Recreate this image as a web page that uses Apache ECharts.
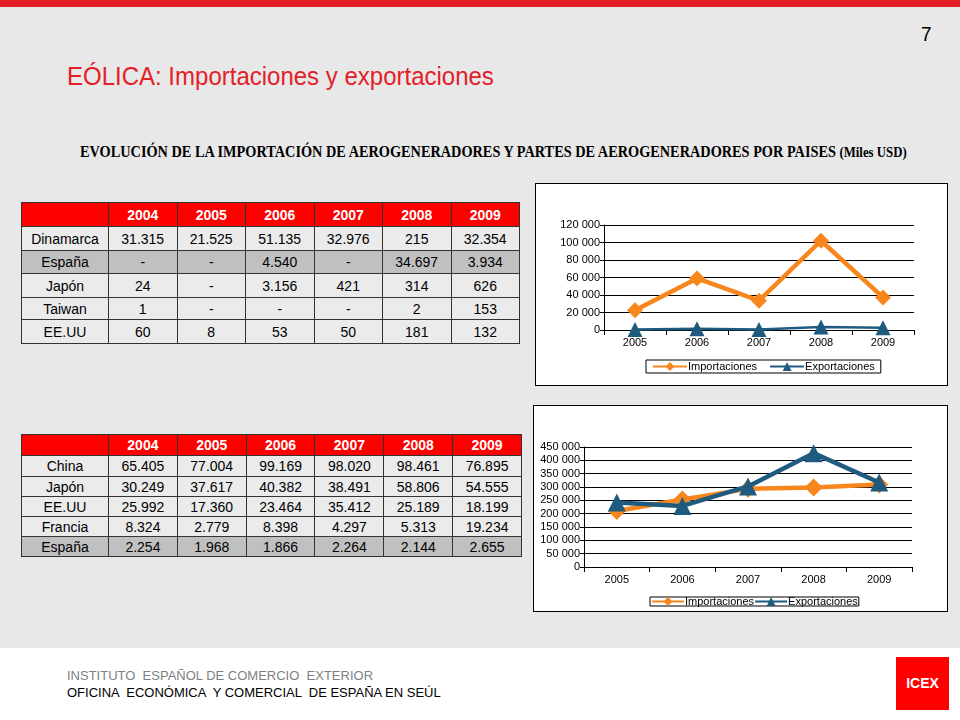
<!DOCTYPE html>
<html>
<head>
<meta charset="utf-8">
<script src="https://cdn.jsdelivr.net/npm/echarts@6/dist/echarts.min.js"></script>
<style>
  html, body { margin:0; padding:0; }
  body { width:960px; height:720px; background:#e8e8e8; position:relative; overflow:hidden; font-family:"Liberation Sans", Arial, sans-serif; }
  #topbar { position:absolute; left:0; top:0; width:960px; height:7px; background:#e32028; }
  #pagenum { position:absolute; left:921px; top:22px; font-size:19px; color:#000; transform:scaleY(1.1); transform-origin:0 0; }
  #title { position:absolute; left:67px; top:61px; font-size:24px; color:#e32028; white-space:nowrap; transform:scaleY(1.1); transform-origin:0 0; }
  #subtitle { position:absolute; left:80px; top:142px; font-family:"Liberation Serif", "Times New Roman", serif; font-weight:bold; font-size:14.3px; color:#000; white-space:nowrap; transform:scaleY(1.15); transform-origin:0 0; }
  #subtitle span { font-size:12.8px; }
  table.t { position:absolute; border-collapse:collapse; font-size:14px; color:#000; }
  table.t td { border:1px solid #333; text-align:center; padding:0; background:#ebebeb; }
  table.t tr.h td { background:#ff0000; color:#fff; font-weight:bold; }
  table.t tr.d td { background:#c0c0c0; }
  #t1 { left:21px; top:202px; width:499px; }
  #t2 { left:21px; top:434px; width:501px; }
  .cbox { position:absolute; background:#fff; border:1px solid #000; box-sizing:border-box; }
  #c1 { left:535px; top:183px; width:413px; height:203px; }
  #c2 { left:533px; top:405px; width:415px; height:207px; }
  #footer { position:absolute; left:0; top:648px; width:960px; height:72px; background:#fff; }
  #f1 { position:absolute; left:67px; top:668px; font-size:13px; color:#7f7f7f; white-space:pre; }
  #f2 { position:absolute; left:67px; top:685px; font-size:13px; color:#000; white-space:pre; }
  #icex { position:absolute; left:896px; top:657px; width:53px; height:53px; background:#ff0000; color:#fff; font-weight:bold; font-size:14px; text-align:center; line-height:53px; }
</style>
</head>
<body>
<div id="topbar"></div>
<div id="pagenum">7</div>
<div id="title">EÓLICA: Importaciones y exportaciones</div>
<div id="subtitle">EVOLUCIÓN DE LA IMPORTACIÓN DE AEROGENERADORES Y PARTES DE AEROGENERADORES POR PAISES <span>(Miles USD)</span></div>
<table class="t" id="t1"></table>
<table class="t" id="t2"></table>
<div class="cbox" id="c1"></div>
<div class="cbox" id="c2"></div>
<div id="footer"></div>
<div id="f1">INSTITUTO  ESPAÑOL DE COMERCIO  EXTERIOR</div>
<div id="f2">OFICINA  ECONÓMICA  Y COMERCIAL  DE ESPAÑA EN SEÚL</div>
<div id="icex">ICEX</div>
<script>
// ---- Table data ----
const tableYears = ['2004','2005','2006','2007','2008','2009'];
const table1Countries = ['Dinamarca','España','Japón','Taiwan','EE.UU'];
const table1Dinamarca = ['31.315','21.525','51.135','32.976','215','32.354'];
const table1Espana    = ['-','-','4.540','-','34.697','3.934'];
const table1Japon     = ['24','-','3.156','421','314','626'];
const table1Taiwan    = ['1','-','-','-','2','153'];
const table1EEUU      = ['60','8','53','50','181','132'];
const table2Countries = ['China','Japón','EE.UU','Francia','España'];
const table2China   = ['65.405','77.004','99.169','98.020','98.461','76.895'];
const table2Japon   = ['30.249','37.617','40.382','38.491','58.806','54.555'];
const table2EEUU    = ['25.992','17.360','23.464','35.412','25.189','18.199'];
const table2Francia = ['8.324','2.779','8.398','4.297','5.313','19.234'];
const table2Espana  = ['2.254','1.968','1.866','2.264','2.144','2.655'];

// ---- Chart data ----
const chartYears = ['2005','2006','2007','2008','2009'];
const chart1Import = [22500, 58900, 33500, 102000, 37200];
const chart1Export = [600, 1500, 700, 3500, 2500];
const chart2Import = [210000, 253000, 293000, 298000, 309000];
const chart2Export = [242000, 229000, 302000, 427000, 317000];

function buildTable(id, countries, rows, darkIdx, heights) {
  const t = document.getElementById(id);
  let html = '<tr class="h" style="height:' + heights[0] + 'px"><td style="width:86px"></td>' +
    tableYears.map(y => '<td>' + y + '</td>').join('') + '</tr>';
  countries.forEach((c, i) => {
    html += '<tr class="' + (i === darkIdx ? 'd' : '') + '" style="height:' + heights[i + 1] + 'px"><td>' + c + '</td>' +
      rows[i].map(v => '<td>' + v + '</td>').join('') + '</tr>';
  });
  t.innerHTML = html;
}
buildTable('t1', table1Countries, [table1Dinamarca, table1Espana, table1Japon, table1Taiwan, table1EEUU], 1, [24, 24, 23, 24, 22, 24]);
buildTable('t2', table2Countries, [table2China, table2Japon, table2EEUU, table2Francia, table2Espana], 4, [21, 21, 20, 20, 20, 20]);

const ORANGE = '#f7861d';
const NAVY = '#1f5b7e';
function fmt(v) { return String(v).replace(/\B(?=(\d{3})+(?!\d))/g, ' '); }

function makeOption(cfg) {
  return {
    animation: false,
    textStyle: { fontFamily: 'Liberation Sans' },
    grid: cfg.grid,
    legend: Object.assign({
      data: ['Importaciones', 'Exportaciones'],
      orient: 'horizontal',
      borderColor: '#000', borderWidth: 1,
      itemWidth: 34, itemHeight: 11,
      textStyle: { fontSize: 11, color: '#000', fontFamily: 'Liberation Sans', padding: [0, 0, 0, -4] }
    }, cfg.legend),
    xAxis: {
      type: 'category', data: chartYears, boundaryGap: true,
      axisLine: { lineStyle: { color: '#000', width: 1 } },
      axisTick: { show: true, length: 5, lineStyle: { color: '#000' } },
      axisLabel: { color: '#000', fontSize: 11, margin: 7 }
    },
    yAxis: {
      type: 'value', min: 0, max: cfg.max, interval: cfg.interval,
      axisLine: { show: true, lineStyle: { color: '#000', width: 1 } },
      axisTick: { show: true, length: 4, lineStyle: { color: '#000' } },
      axisLabel: { color: '#000', fontSize: 11, margin: 4, formatter: fmt },
      splitLine: { show: true, lineStyle: { color: '#000', width: 1 } }
    },
    series: [
      { name: 'Importaciones', type: 'line', data: cfg.imp, symbol: 'diamond', symbolSize: cfg.symImp,
        itemStyle: { color: ORANGE }, lineStyle: { color: ORANGE, width: cfg.wImp }, z: 2 },
      { name: 'Exportaciones', type: 'line', data: cfg.exp, symbol: 'triangle', symbolSize: cfg.symExp,
        itemStyle: { color: NAVY }, lineStyle: { color: NAVY, width: cfg.wExp }, z: 3 }
    ]
  };
}

const c1 = echarts.init(document.getElementById('c1'), null, { renderer: 'canvas' });
c1.setOption(makeOption({
  grid: { left: 68, right: 33, top: 41, bottom: 55 },
  legend: { left: 110, top: 176, padding: [1, 6, 1, 6], itemGap: 12 },
  max: 120000, interval: 20000,
  imp: chart1Import, exp: chart1Export,
  symImp: 16, symExp: 15, wImp: 4.5, wExp: 2.5
}));

const c2 = echarts.init(document.getElementById('c2'), null, { renderer: 'canvas' });
c2.setOption(makeOption({
  grid: { left: 50, right: 35, top: 41, bottom: 44 },
  legend: { left: 116, top: 191, padding: [-1, 1, -1, 1], itemGap: 0, itemWidth: 32 },
  max: 450000, interval: 50000,
  imp: chart2Import, exp: chart2Export,
  symImp: 18, symExp: 18, wImp: 4.5, wExp: 4.5
}));
</script>
</body>
</html>
